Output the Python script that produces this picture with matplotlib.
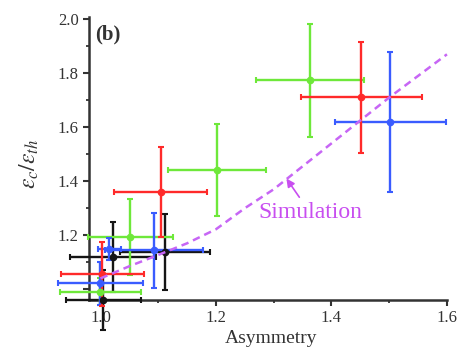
import matplotlib
matplotlib.use("Agg")
import matplotlib.pyplot as plt

# -------- data --------
red_x = [1.452, 1.104, 1.003]
red_y = [1.711, 1.359, 1.056]
red_xerr = [0.105, 0.080, 0.072]
red_yerr = [0.205, 0.167, 0.118]

green_x = [1.363, 1.202, 1.052, 1.000]
green_y = [1.774, 1.441, 1.193, 0.990]
green_xerr = [0.094, 0.085, 0.074, 0.070]
green_yerr = [0.210, 0.170, 0.140, 0.050]

blue_x = [1.502, 1.092, 1.015, 1.000]
blue_y = [1.619, 1.144, 1.150, 1.022]
blue_xerr = [0.096, 0.085, 0.020, 0.073]
blue_yerr = [0.260, 0.138, 0.040, 0.080]

black_x = [1.112, 1.022, 1.005]
black_y = [1.137, 1.119, 0.960]
black_xerr = [0.078, 0.074, 0.065]
black_yerr = [0.140, 0.130, 0.110]

sim_x = [1.0, 1.05, 1.1, 1.15, 1.2, 1.25, 1.3, 1.35, 1.4, 1.45, 1.5, 1.55, 1.6]
sim_y = [1.04, 1.085, 1.127, 1.17, 1.222, 1.30, 1.37, 1.455, 1.54, 1.625, 1.71, 1.79, 1.87]

y_ticks = [1.0, 1.2, 1.4, 1.6, 1.8, 2.0]
y_tick_labels = ["", "1.2", "1.4", "1.6", "1.8", "2.0"]
x_ticks = [1.0, 1.2, 1.4, 1.6]
x_tick_labels = ["1.0", "1.2", "1.4", "1.6"]

plt.rcParams["font.family"] = ["Liberation Serif", "DejaVu Serif"]
plt.rcParams["mathtext.fontset"] = "stix"

fig = plt.figure(figsize=(4.68, 3.49), dpi=100)
ax = fig.add_axes([0.190, 0.1404, 0.765, 0.8123])

# -------- simulation curve --------
ax.plot(sim_x, sim_y, color="#c766f5", lw=1.8, ls=(0, (3, 2)), zorder=4, clip_on=False)

# -------- error bar crosses --------
groups = [
    (black_x, black_y, black_xerr, black_yerr, "#151515"),
    (green_x, green_y, green_xerr, green_yerr, "#6ee83a"),
    (blue_x, blue_y, blue_xerr, blue_yerr, "#3a5cff"),
    (red_x, red_y, red_xerr, red_yerr, "#ff2a2a"),
]
for xs, ys, xe, ye, c in groups:
    cont = ax.errorbar(xs, ys, xerr=xe, yerr=ye, fmt="o", color=c, ms=4.5,
                       elinewidth=1.7, capsize=2.5, capthick=1.5, zorder=3)
    for art in cont.get_children():
        art.set_clip_on(False)

# -------- annotation --------
ax.annotate("Simulation", xy=(1.322, 1.41), xytext=(1.363, 1.283),
            ha="center", va="center", fontsize=17, color="#c84ef0",
            arrowprops=dict(arrowstyle="-|>", color="#c84ef0", lw=1.2,
                            mutation_scale=12, shrinkA=2, shrinkB=0))
ax.text(0.017, 0.935, "(b)", transform=ax.transAxes, fontsize=15,
        fontweight="bold", ha="left", va="center", color="#333333")

# -------- axes --------
ax.set_xlim(0.98, 1.6)
ax.set_ylim(0.96, 2.01)
ax.set_xticks(x_ticks)
ax.set_xticklabels(x_tick_labels)
ax.set_xticks([1.1, 1.3, 1.5], minor=True)
ax.set_yticks(y_ticks)
ax.set_yticklabels(y_tick_labels)
ax.set_yticks([1.1, 1.3, 1.5, 1.7, 1.9], minor=True)

for side in ["top", "right"]:
    ax.spines[side].set_visible(False)
for side in ["left", "bottom"]:
    ax.spines[side].set_linewidth(1.8)
    ax.spines[side].set_color("#333333")

ax.tick_params(which="major", direction="out", length=4, width=1.5,
               labelsize=12, colors="#333333")
ax.tick_params(which="minor", direction="out", length=2.5, width=1.3, colors="#333333")

ax.set_xlabel("Asymmetry", fontsize=14, color="#333333")
ax.xaxis.set_label_coords(0.51, -0.105)
ax.set_ylabel(r"$\varepsilon_c/\varepsilon_{th}$", fontsize=17, color="#333333")
ax.yaxis.set_label_coords(-0.135, 0.48)

fig.savefig("out.png", dpi=100)
